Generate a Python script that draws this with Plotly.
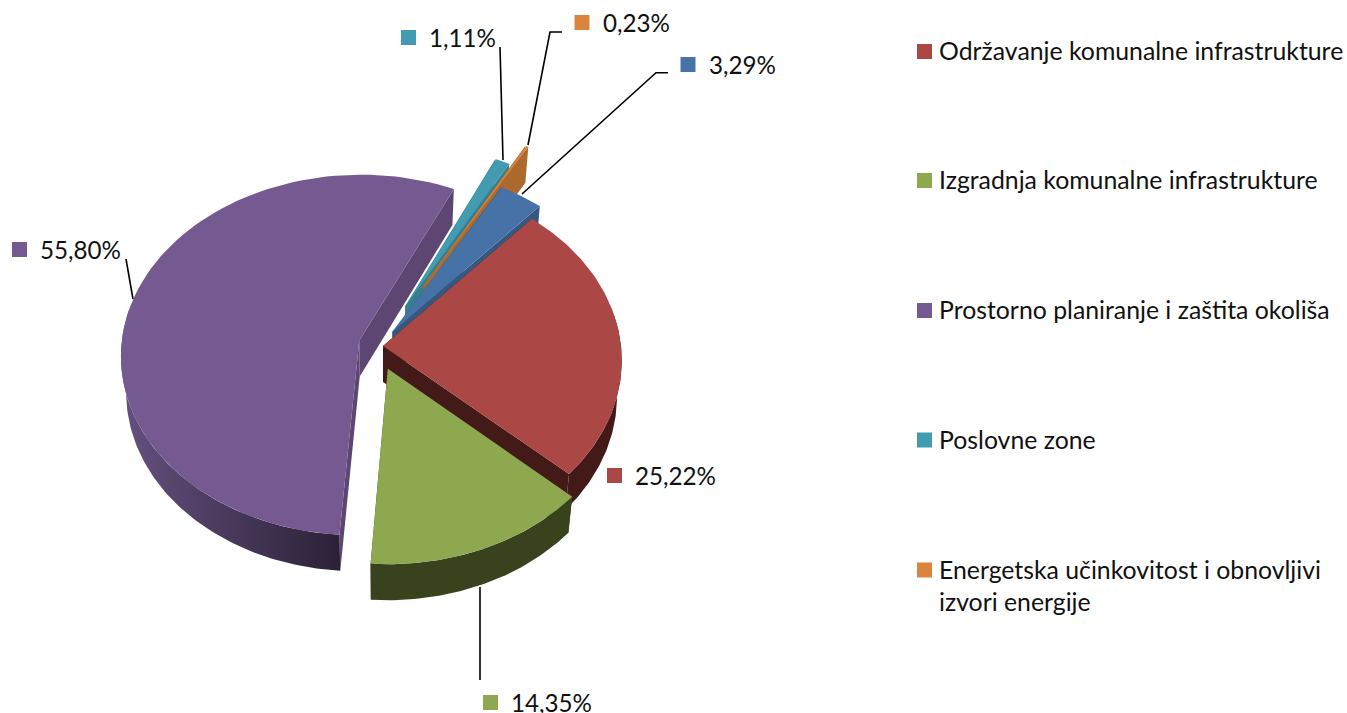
import numpy as np
import plotly.graph_objects as go

# ---------- data ----------
categories = ["Održavanje komunalne infrastrukture", "Izgradnja komunalne infrastrukture",
              "Prostorno planiranje i zaštita okoliša", "Poslovne zone",
              "Energetska učinkovitost i obnovljivi<br>izvori energije", "Ostalo"]
values = [25.22, 14.35, 55.80, 1.11, 0.23, 3.29]
value_labels = ["25,22%", "14,35%", "55,80%", "1,11%", "0,23%", "3,29%"]

# ---------- style ----------
top_colors = ["#AB4744", "#8DA84F", "#755A92", "#429BB1", "#DA843E", "#4672A8"]
cut_colors = ["#441A18", "#38421C", "#5E4672", "#35808F", "#AD6A2F", "#355880"]
wall_colors = [["#441A18", "#441A18"], ["#38421C", "#38421C"], ["#65507F", "#2B2137"],
               ["#35808F", "#35808F"], ["#AD6A2F", "#AD6A2F"], ["#355880", "#355880"]]
# explosion of each slice, in radii: (sideways, towards the viewer)
explode = [(0.0, 0.0), (0.02, 0.125), (-0.10, -0.03), (0.095, -0.225), (0.175, -0.345), (0.04, -0.08)]
radius_scale = [1.0, 0.98, 1.0, 1.0, 1.0, 1.0]
draw_order = [2, 3, 4, 5, 0, 1]
START = 41.5
CX, CY, RX, RY, DEPTH, PERSP, SHRINK = 383, 346, 238, 180, 36, 0.08, 0.98
FONT = "Lato"
FS_LABEL = 24.2
FS_LEGEND = 24.8
TXT = "#111111"

# label keys: centre of key
label_pos = [(614.5, 475.5), (490.5, 702.5), (19.5, 249.5), (408.5, 37.5), (582, 22.5), (688, 64.5)]
leaders = [None,
           [(480, 587), (480, 680)],
           [(126, 259), (133, 299)],
           [(500, 47), (503, 160)],
           [(562, 32), (550, 32), (528, 145)],
           [(668, 72.7), (656, 72.7), (522, 194)]]
legend_y = [51.5, 180.5, 310.5, 440, 570]


def project(X, V, z):
    X, V = np.asarray(X, float), np.asarray(V, float)
    w = 1 / (1 - PERSP * V)
    s = 1 - (1 - SHRINK) * z
    return CX + RX * X * w * s, CY + RY * V * w + DEPTH * z


def poly(x, y, color=None, gradient=None):
    kw = dict(x=np.r_[x, x[0]], y=np.r_[y, y[0]], mode="lines", fill="toself",
              line=dict(width=0), hoverinfo="skip", showlegend=False)
    if gradient:
        kw["fillgradient"] = dict(type="horizontal", colorscale=[[0, gradient[0]], [1, gradient[1]]])
        kw["fillcolor"] = gradient[0]
    else:
        kw["fillcolor"] = color
    return go.Scatter(**kw)


fig = go.Figure()
edges = START + np.cumsum([0] + values) * 3.6

for i in draw_order:
    a1, a2 = edges[i], edges[i + 1]
    ox, ov = explode[i]
    k = radius_scale[i]
    ang = np.radians(np.linspace(a1, a2, 90))
    X, V = ox + k * np.sin(ang), ov - k * np.cos(ang)
    for a in (a1, a2):
        r = np.radians(a)
        ex, ev = ox + k * np.sin(r), ov - k * np.cos(r)
        xs = [ox, ex, ex, ox]
        vs = [ov, ev, ev, ov]
        px, py = project(xs, vs, np.array([0, 0, 1, 1]))
        fig.add_trace(poly(px, py, cut_colors[i]))
    # visible front part of the rim
    lo, hi = max(a1, 80), min(a2, 280)
    if hi > lo:
        rim = np.radians(np.linspace(lo, hi, 90))
        rx, rv = ox + k * np.sin(rim), ov - k * np.cos(rim)
        tx, ty = project(rx, rv, 0)
        bx, by = project(rx, rv, 1)
        fig.add_trace(poly(np.r_[tx, bx[::-1]], np.r_[ty, by[::-1]], gradient=wall_colors[i]))
    tx, ty = project(np.r_[ox, X], np.r_[ov, V], 0)
    fig.add_trace(poly(tx, ty, top_colors[i]))

for path in leaders:
    if path:
        fig.add_trace(go.Scatter(x=[p[0] for p in path], y=[p[1] for p in path], mode="lines",
                                 line=dict(color="#000000", width=1.6), hoverinfo="skip", showlegend=False))

# data-label keys and legend keys
fig.add_trace(go.Scatter(x=[p[0] for p in label_pos], y=[p[1] for p in label_pos], mode="markers",
                         marker=dict(symbol="square", size=15, color=top_colors, line=dict(width=0)),
                         hoverinfo="skip", showlegend=False))
fig.add_trace(go.Scatter(x=[924.5] * 5, y=legend_y, mode="markers",
                         marker=dict(symbol="square", size=15, color=top_colors[:5], line=dict(width=0)),
                         hoverinfo="skip", showlegend=False))

ann = []
for (x, y), t in zip(label_pos, value_labels):
    ann.append(dict(x=x + 19.5, y=y, text=t, xref="x", yref="y", xanchor="left", yanchor="middle",
                    showarrow=False, align="left", font=dict(family=FONT, size=FS_LABEL, color=TXT),
                    borderpad=0))
for y, t, dy in zip(legend_y, categories[:5], [-1, -1, -1, -1, 15]):
    ann.append(dict(x=937.5, y=y + dy, text=t, xref="x", yref="y", xanchor="left", yanchor="middle",
                    showarrow=False, align="left", font=dict(family=FONT, size=FS_LEGEND, color=TXT),
                    borderpad=0))

fig.update_layout(width=1347, height=713, margin=dict(l=0, r=0, t=0, b=0),
                  paper_bgcolor="white", plot_bgcolor="white", annotations=ann,
                  xaxis=dict(range=[0, 1347], visible=False, fixedrange=True),
                  yaxis=dict(range=[713, 0], visible=False, fixedrange=True))
fig.write_html("out.html", config={"displayModeBar": False},
               post_script="document.body.style.margin='0';document.body.style.overflow='hidden';")
